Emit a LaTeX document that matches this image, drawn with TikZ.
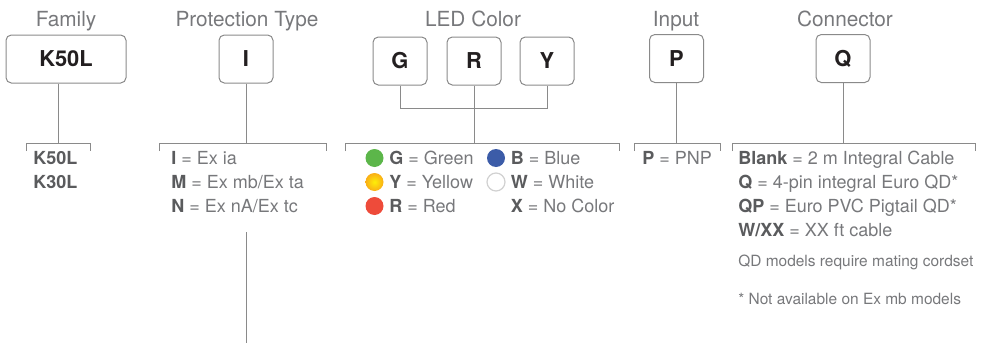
\documentclass[tikz,border=0pt]{standalone}
\usepackage{fontspec}
\setmainfont{TeX Gyre Heros}
\usetikzlibrary{positioning}
\definecolor{linegray}{HTML}{8A8A8A}
\definecolor{textgray}{HTML}{77787B}
\definecolor{keygray}{HTML}{5A5B5D}
\definecolor{boxblack}{HTML}{231F20}
\definecolor{ledgreen}{HTML}{5CB64A}
\definecolor{ledblue}{HTML}{3C5CA8}
\definecolor{ledyellow}{HTML}{F8BE1E}
\definecolor{ledred}{HTML}{EE4B3A}
\newcommand{\key}[1]{{\color{keygray}\bfseries #1}}

\begin{document}
\begin{tikzpicture}[x=0.75pt,y=-0.75pt,
    keybox/.style={draw=linegray,line width=0.75pt,rounded corners=4pt,minimum width=40.5pt,
      minimum height=36pt,inner sep=0pt,font=\fontsize{16.4}{18}\selectfont\bfseries,text=boxblack},
    head/.style={anchor=base,inner sep=0pt,font=\fontsize{15.6}{18}\selectfont,text=textgray},
    item/.style={anchor=base west,inner sep=0pt,font=\fontsize{13.5}{15}\selectfont,text=textgray},
    note/.style={item,font=\fontsize{11.6}{13}\selectfont},
    link/.style={draw=linegray,line width=0.75pt},
    led/.style={circle,inner sep=0pt,minimum size=13.5pt}]
    \useasboundingbox (0,0) rectangle (1008,343);

    % code boxes
    \node[keybox,minimum width=90pt] (fam) at (66,59) {K50L};
    \node[keybox] (prot) at (246,59) {I};
    \node[keybox] (ledg) at (400,61) {G};
    \node[keybox] (ledr) at (474,61) {R};
    \node[keybox] (ledy) at (547,61) {Y};
    \node[keybox] (inp) at (676.5,58.5) {P};
    \node[keybox] (conn) at (843,58.5) {Q};

    % headings
    \node[head] (famhead) at (66,26) {Family};
    \node[head] (prothead) at (247,26) {Protection Type};
    \node[head] (ledhead) at (473,26) {LED Color};
    \node[head] (inphead) at (676,26) {Input};
    \node[head] (connhead) at (845,26) {Connector};

    % brackets
    \coordinate (famL) at (26,143);   \coordinate (famR) at (90,143);
    \coordinate (protL) at (159,143); \coordinate (protR) at (326,143);
    \coordinate (ledL) at (345,143);  \coordinate (ledR) at (619,143);
    \coordinate (inpL) at (634,143);  \coordinate (inpR) at (720,143);
    \coordinate (connL) at (732,143); \coordinate (connR) at (975,143);
    \foreach \b in {fam,prot,led,inp,conn}
      \draw[link] ([yshift=-6pt]\b L) -- (\b L) -- (\b R) -- ([yshift=-6pt]\b R);

    % stems
    \coordinate (famtop) at (58,143);
    \coordinate (ledjoin) at (474,108.7);
    \coordinate (protout) at (246.5,232);
    \coordinate (protend) at (246.5,343);
    \draw[link] (famtop |- fam.south) -- (famtop);
    \draw[link] (prot.south) -- (prot.south |- protL);
    \draw[link] (ledg.south) -- (ledg.south |- ledjoin) -- (ledy.south |- ledjoin) -- (ledy.south);
    \draw[link] (ledr.south) -- (ledr.south |- ledL);
    \draw[link] (inp.south) -- (inp.south |- inpL);
    \draw[link] (conn.south) -- (conn.south |- connL);
    \draw[link] (protout) -- (protend);

    % family
    \node[item] (fam1) at (33,164) {\key{K50L}};
    \node[item] (fam2) at (33,188) {\key{K30L}};

    % protection type
    \node[item] (prot1) at (171,164) {\key{I} = Ex ia};
    \node[item] (prot2) at (171,188) {\key{M} = Ex mb/Ex ta};
    \node[item] (prot3) at (171,212) {\key{N} = Ex nA/Ex tc};

    % led colours
    \node[led,fill=ledgreen] (dotg) at (374.5,158) {};
    \node[led,inner color=yellow!75!ledyellow,outer color=ledyellow!75!orange] (doty) at (374.5,182) {};
    \node[led,fill=ledred] (dotr) at (374.5,206) {};
    \node[led,fill=ledblue] (dotb) at (496,158) {};
    \node[led,fill=white,draw=black!18,line width=0.9pt] (dotw) at (496,182) {};
    \node[item] (led1) at (389,164) {\key{G} = Green};
    \node[item] (led2) at (389,188) {\key{Y} = Yellow};
    \node[item] (led3) at (389,212) {\key{R} = Red};
    \node[item] (led4) at (510.5,164) {\key{B} = Blue};
    \node[item] (led5) at (510.5,188) {\key{W} = White};
    \node[item] (led6) at (510.5,212) {\key{X} = No Color};

    % input
    \node[item] (inp1) at (642,164) {\key{P} = PNP};

    % connector
    \node[item] (conn1) at (738,164) {\key{Blank} = 2 m Integral Cable};
    \node[item] (conn2) at (738,188) {\key{Q} = 4-pin integral Euro QD*};
    \node[item] (conn3) at (738,212) {\key{QP} = Euro PVC Pigtail QD*};
    \node[item] (conn4) at (738,236) {\key{W/XX} = XX ft cable};
    \node[note] (connnote1) at (738,266) {QD models require mating cordset};
    \node[note] (connnote2) at (738,304) {* Not available on Ex mb models};
  \end{tikzpicture}
\end{document}
